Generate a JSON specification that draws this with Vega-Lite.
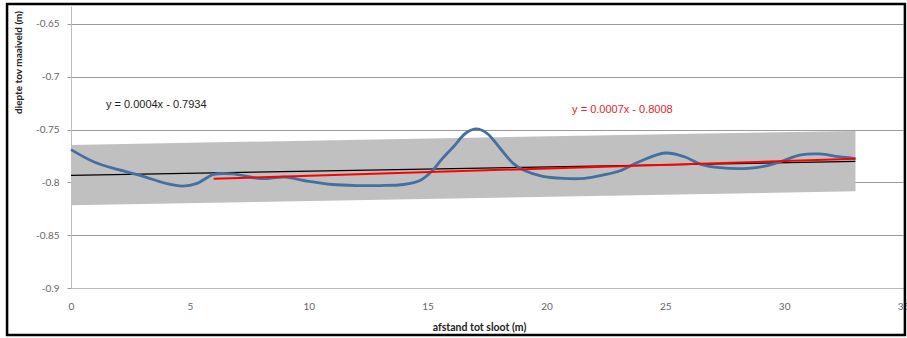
{
  "$schema": "https://vega.github.io/schema/vega-lite/v6.json",
  "width": 832,
  "height": 282,
  "autosize": {"type": "none"},
  "padding": {"left": 71, "top": 6, "right": 4, "bottom": 50},
  "background": "white",
  "config": {
    "view": {"stroke": null},
    "axis": {
      "labelFont": "Lato",
      "labelFontSize": 10,
      "labelColor": "#666666",
      "titleFont": "Lato",
      "titleFontWeight": "bold",
      "titleFontSize": 10,
      "titleColor": "#222222",
      "domainColor": "#BBBBBB",
      "gridColor": "#9A9A9A",
      "tickColor": "#9A9A9A"
    }
  },
  "datasets": {
    "band": [
      {"x": 0, "lo": -0.8216, "hi": -0.7645},
      {"x": 33, "lo": -0.8084, "hi": -0.7513}
    ],
    "trend_all": [
      {"x": 0, "y": -0.7934},
      {"x": 33, "y": -0.7802}
    ],
    "trend_red": [
      {"x": 6, "y": -0.7966},
      {"x": 33, "y": -0.7777}
    ],
    "profile": [
      {"x": 0, "y": -0.769},
      {"x": 1, "y": -0.781},
      {"x": 2, "y": -0.788},
      {"x": 3, "y": -0.794},
      {"x": 4, "y": -0.801},
      {"x": 4.7, "y": -0.8035},
      {"x": 5.3, "y": -0.801},
      {"x": 6, "y": -0.7925},
      {"x": 6.8, "y": -0.792},
      {"x": 8, "y": -0.7965},
      {"x": 9, "y": -0.795},
      {"x": 10, "y": -0.799},
      {"x": 11, "y": -0.802},
      {"x": 12, "y": -0.803},
      {"x": 13, "y": -0.803},
      {"x": 14, "y": -0.802},
      {"x": 14.7, "y": -0.798},
      {"x": 15.2, "y": -0.789},
      {"x": 15.6, "y": -0.778},
      {"x": 16.1, "y": -0.766},
      {"x": 16.6, "y": -0.7535},
      {"x": 17.05, "y": -0.7494},
      {"x": 17.5, "y": -0.7535},
      {"x": 18.05, "y": -0.7677},
      {"x": 18.6, "y": -0.782},
      {"x": 19.1, "y": -0.789},
      {"x": 19.8, "y": -0.794},
      {"x": 20.7, "y": -0.7962},
      {"x": 21.6, "y": -0.7962},
      {"x": 22.4, "y": -0.793},
      {"x": 23.1, "y": -0.789},
      {"x": 23.9, "y": -0.7804},
      {"x": 25.0, "y": -0.7722},
      {"x": 25.8, "y": -0.7757},
      {"x": 26.5, "y": -0.7829},
      {"x": 27.3, "y": -0.7861},
      {"x": 28.5, "y": -0.7867},
      {"x": 29.3, "y": -0.7842},
      {"x": 29.9, "y": -0.7800},
      {"x": 30.7, "y": -0.7740},
      {"x": 31.5, "y": -0.7731},
      {"x": 32.3, "y": -0.7757},
      {"x": 33, "y": -0.7775}
    ],
    "labels": [
      {"x": 1.47, "y": -0.7267, "text": "y = 0.0004x - 0.7934", "kind": "all"},
      {"x": 21.08, "y": -0.7314, "text": "y = 0.0007x - 0.8008", "kind": "red"}
    ],
    "frame": [
      {"x0": -2.69, "x1": 35.08, "y0": -0.9445, "y1": -0.6311}
    ]
  },
  "encoding": {
    "x": {
      "field": "x",
      "type": "quantitative",
      "scale": {"domain": [0, 35], "nice": false, "zero": false},
      "axis": {
        "title": "afstand  tot sloot (m)",
        "values": [0, 5, 10, 15, 20, 25, 30, 35],
        "grid": false,
        "ticks": false,
        "labelPadding": 13,
        "labelFlush": false,
        "titleX": 408,
        "titleY": 39,
        "titleBaseline": "middle",
        "titleFontSize": 10.5
      }
    },
    "y": {
      "field": "y",
      "type": "quantitative",
      "scale": {"domain": [-0.9, -0.633], "nice": false, "zero": false},
      "axis": {
        "title": "diepte tov maaiveld (m)",
        "values": [-0.9, -0.85, -0.8, -0.75, -0.7, -0.65],
        "labelExpr": "'' + datum.value",
        "grid": true,
        "tickSize": 4,
        "labelPadding": 8,
        "titleX": -53,
        "titleY": 56,
        "titleAngle": -90,
        "titleAlign": "center",
        "titleBaseline": "middle"
      }
    }
  },
  "layer": [
    {
      "data": {"name": "band"},
      "mark": {"type": "area", "color": "#C0C0C0", "opacity": 1},
      "encoding": {
        "y": {"field": "lo", "type": "quantitative"},
        "y2": {"field": "hi"}
      }
    },
    {
      "data": {"name": "trend_all"},
      "mark": {"type": "line", "color": "#000000", "strokeWidth": 1.2}
    },
    {
      "data": {"name": "profile"},
      "mark": {"type": "line", "color": "#44709F", "strokeWidth": 2.8, "interpolate": "catmull-rom"}
    },
    {
      "data": {"name": "trend_red"},
      "mark": {"type": "line", "color": "#FF0000", "strokeWidth": 2}
    },
    {
      "data": {"name": "labels"},
      "mark": {"type": "text", "align": "left", "baseline": "middle", "font": "Liberation Sans", "fontSize": 11},
      "encoding": {
        "text": {"field": "text"},
        "color": {
          "field": "kind",
          "type": "nominal",
          "scale": {"domain": ["all", "red"], "range": ["#222222", "#E8212A"]},
          "legend": null
        }
      }
    },
    {
      "data": {"name": "frame"},
      "mark": {"type": "rect", "fill": null, "stroke": "#000000", "strokeWidth": 2.5, "clip": false},
      "encoding": {
        "x": {"field": "x0", "type": "quantitative"},
        "x2": {"field": "x1"},
        "y": {"field": "y0", "type": "quantitative"},
        "y2": {"field": "y1"}
      }
    }
  ]
}
